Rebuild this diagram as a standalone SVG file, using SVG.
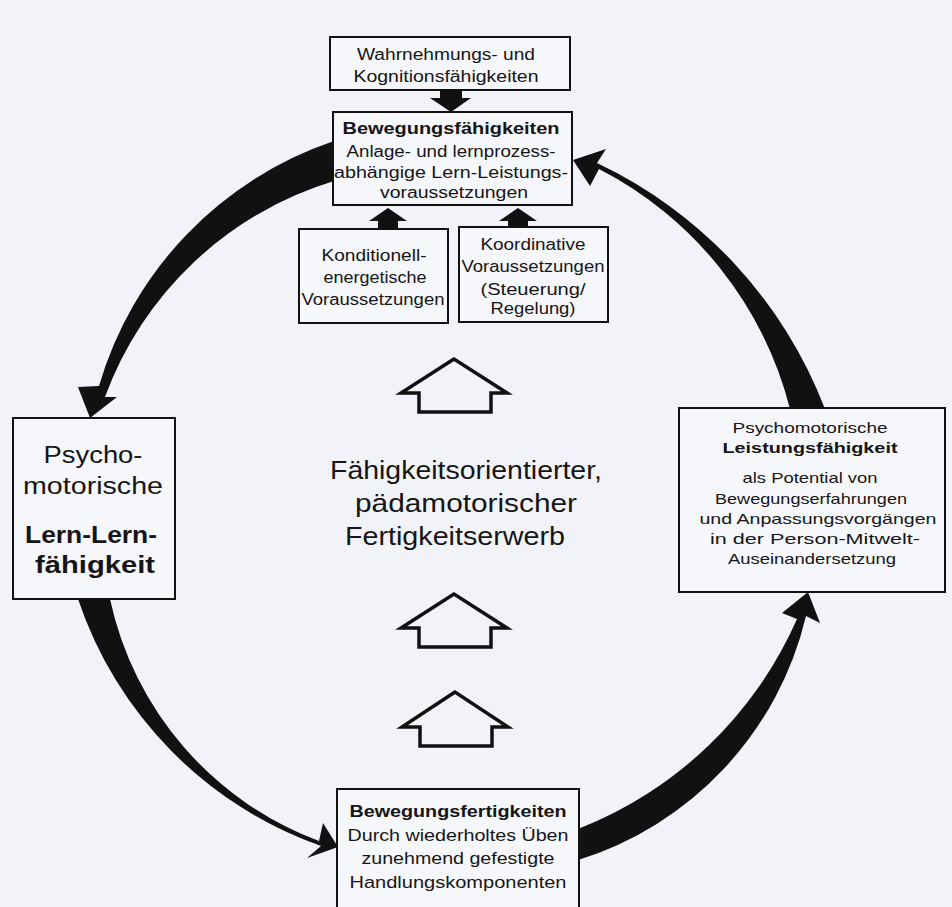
<svg xmlns="http://www.w3.org/2000/svg" width="952" height="907" viewBox="0 0 952 907">
  <style>
    .box { fill: #f6f7fb; stroke: #111; stroke-width: 2; }
    .t { font-family: "Liberation Sans", Arial, sans-serif; fill: #151515; text-anchor: middle; }
    .b { font-weight: bold; }
    .band { fill: #111; stroke: none; }
    .solid { fill: #111; stroke: none; }
    .hollow { fill: none; stroke: #111; stroke-width: 3.5; stroke-linejoin: miter; }
  </style>

  <!-- paper -->
  <rect x="0" y="0" width="952" height="907" fill="#f2f3f9"/>

  <!-- connectors: the four tapered cycle arrows, the solid feeder arrows and the hollow progression arrows -->
  <g id="connectors">
    <!-- top-left: from Bewegungsfähigkeiten down to the Lern-Lernfähigkeit box -->
    <path class="band" d="M334,141 A367,367 0 0 0 99,386 L78,387 L90,418 L117,397 L105,397 A353,353 0 0 1 334,181 Z"/>
    <!-- bottom-left: from Lern-Lernfähigkeit down to Bewegungsfertigkeiten -->
    <path class="band" d="M78,599 A395,395 0 0 0 321,846 L307,858 L338,847 L323,823 L319,841 A333,333 0 0 1 110,599 Z"/>
    <!-- bottom-right: from Bewegungsfertigkeiten up to Leistungsfähigkeit -->
    <path class="band" d="M578,860 A337,337 0 0 0 806,616 L820,623 L808,592 L782,613 L797,619 A397,397 0 0 1 578,829 Z"/>
    <!-- top-right: from Leistungsfähigkeit up to Bewegungsfähigkeiten -->
    <path class="band" d="M825,409 A450,450 0 0 0 597,163 L606,149 L573,160 L590,186 L599,169 A373,373 0 0 1 790,409 Z"/>

    <!-- solid feeder arrows -->
    <path class="solid" d="M440,90 L462,90 L462,98 L471,98 L451,112 L430,98 L440,98 Z"/>
    <path class="solid" d="M378,229 L378,221 L369,221 L388,208 L407,221 L398,221 L398,229 Z"/>
    <path class="solid" d="M508,228 L508,221 L499,221 L518,208 L537,221 L528,221 L528,228 Z"/>

    <!-- hollow upward arrows in the centre -->
    <path class="hollow" d="M454,359 L401,393 L419,393 L419,412 L491,412 L491,393 L507,393 Z"/>
    <path class="hollow" d="M454,594 L401,628 L419,628 L419,647 L491,647 L491,628 L507,628 Z"/>
    <path class="hollow" d="M455,692 L402,727 L420,727 L420,746 L492,746 L492,727 L508,727 Z"/>
  </g>

  <g id="wahrnehmung">
    <rect class="box" x="330" y="37" width="240" height="53"/>
    <text class="t" font-size="16" x="446" y="60" textLength="178" lengthAdjust="spacingAndGlyphs">Wahrnehmungs- und</text>
    <text class="t" font-size="16" x="446" y="82" textLength="185" lengthAdjust="spacingAndGlyphs">Kognitionsfähigkeiten</text>
  </g>

  <g id="bewegungsfaehigkeiten">
    <rect class="box" x="333" y="112" width="239" height="93"/>
    <text class="t b" font-size="16" x="451" y="134" textLength="217" lengthAdjust="spacingAndGlyphs">Bewegungsfähigkeiten</text>
    <text class="t" font-size="16" x="451" y="157" textLength="209" lengthAdjust="spacingAndGlyphs">Anlage- und lernprozess-</text>
    <text class="t" font-size="16" x="451" y="178" textLength="234" lengthAdjust="spacingAndGlyphs">abhängige Lern-Leistungs-</text>
    <text class="t" font-size="16" x="454" y="198" textLength="148" lengthAdjust="spacingAndGlyphs">voraussetzungen</text>
  </g>

  <g id="konditionell">
    <rect class="box" x="299" y="229" width="149" height="94"/>
    <text class="t" font-size="16" x="374" y="261" textLength="105" lengthAdjust="spacingAndGlyphs">Konditionell-</text>
    <text class="t" font-size="16" x="375" y="283" textLength="103" lengthAdjust="spacingAndGlyphs">energetische</text>
    <text class="t" font-size="16" x="373" y="305" textLength="143" lengthAdjust="spacingAndGlyphs">Voraussetzungen</text>
  </g>

  <g id="koordinativ">
    <rect class="box" x="459" y="227" width="149" height="95"/>
    <text class="t" font-size="16" x="533" y="250" textLength="105" lengthAdjust="spacingAndGlyphs">Koordinative</text>
    <text class="t" font-size="16" x="533" y="272" textLength="143" lengthAdjust="spacingAndGlyphs">Voraussetzungen</text>
    <text class="t" font-size="16" x="533" y="295" textLength="105" lengthAdjust="spacingAndGlyphs">(Steuerung/</text>
    <text class="t" font-size="16" x="533" y="314" textLength="85" lengthAdjust="spacingAndGlyphs">Regelung)</text>
  </g>

  <g id="lernfaehigkeit">
    <rect class="box" x="13" y="418" width="162" height="181"/>
    <text class="t" font-size="23" x="93" y="463" textLength="99" lengthAdjust="spacingAndGlyphs">Psycho-</text>
    <text class="t" font-size="23" x="93" y="494" textLength="140" lengthAdjust="spacingAndGlyphs">motorische</text>
    <text class="t b" font-size="23" x="91" y="543" textLength="132" lengthAdjust="spacingAndGlyphs">Lern-Lern-</text>
    <text class="t b" font-size="23" x="95" y="573" textLength="120" lengthAdjust="spacingAndGlyphs">fähigkeit</text>
  </g>

  <g id="leistungsfaehigkeit">
    <rect class="box" x="679" y="408" width="266" height="184"/>
    <text class="t" font-size="15" x="810" y="433" textLength="155" lengthAdjust="spacingAndGlyphs">Psychomotorische</text>
    <text class="t b" font-size="15" x="810" y="453" textLength="175" lengthAdjust="spacingAndGlyphs">Leistungsfähigkeit</text>
    <text class="t" font-size="15" x="810" y="483" textLength="135" lengthAdjust="spacingAndGlyphs">als Potential von</text>
    <text class="t" font-size="15" x="811" y="504" textLength="192" lengthAdjust="spacingAndGlyphs">Bewegungserfahrungen</text>
    <text class="t" font-size="15" x="818" y="524" textLength="237" lengthAdjust="spacingAndGlyphs">und Anpassungsvorgängen</text>
    <text class="t" font-size="15" x="815" y="544" textLength="210" lengthAdjust="spacingAndGlyphs">in der Person-Mitwelt-</text>
    <text class="t" font-size="15" x="812" y="564" textLength="168" lengthAdjust="spacingAndGlyphs">Auseinandersetzung</text>
  </g>

  <g id="fertigkeitserwerb">
    <text class="t" font-size="25" x="466" y="479" textLength="272" lengthAdjust="spacingAndGlyphs">Fähigkeitsorientierter,</text>
    <text class="t" font-size="25" x="466" y="512" textLength="222" lengthAdjust="spacingAndGlyphs">pädamotorischer</text>
    <text class="t" font-size="25" x="455" y="545" textLength="220" lengthAdjust="spacingAndGlyphs">Fertigkeitserwerb</text>
  </g>

  <g id="bewegungsfertigkeiten">
    <rect class="box" x="337" y="789" width="242" height="130"/>
    <text class="t b" font-size="16" x="458" y="817" textLength="217" lengthAdjust="spacingAndGlyphs">Bewegungsfertigkeiten</text>
    <text class="t" font-size="16" x="458" y="841" textLength="221" lengthAdjust="spacingAndGlyphs">Durch wiederholtes Üben</text>
    <text class="t" font-size="16" x="458" y="864" textLength="193" lengthAdjust="spacingAndGlyphs">zunehmend gefestigte</text>
    <text class="t" font-size="16" x="458" y="888" textLength="217" lengthAdjust="spacingAndGlyphs">Handlungskomponenten</text>
  </g>
</svg>
